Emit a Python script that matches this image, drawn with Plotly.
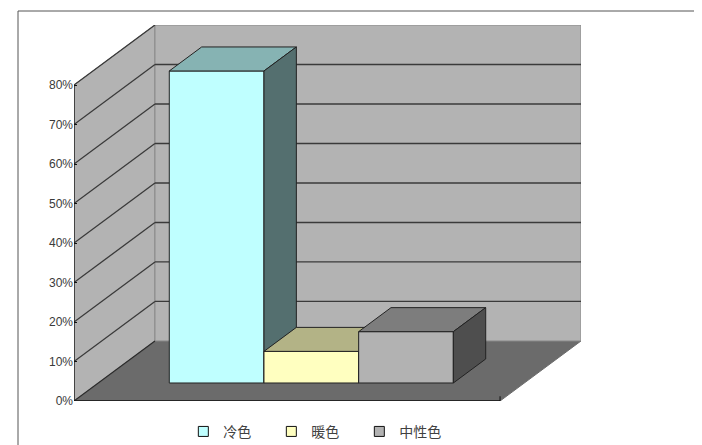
import plotly.graph_objects as go

# ---- data ----
categories = ["冷色", "暖色", "中性色"]
values = [79, 8, 13]
y_ticks = [0, 10, 20, 30, 40, 50, 60, 70, 80]
y_tick_labels = ["0%", "10%", "20%", "30%", "40%", "50%", "60%", "70%", "80%"]

# ---- style ----
front_colors = ["#BFFFFF", "#FFFFC0", "#B2B2B2"]
top_colors = ["#86B3B3", "#B3B386", "#7D7D7D"]
side_colors = ["#546F6F", "#70704F", "#4E4E4E"]
WALL = "#B3B3B3"
FLOOR = "#6B6B6B"
GRID = "#3A3A3A"
EDGE = "#222222"

Y_MAX = max(y_ticks)
DX = 0.19        # depth offset in x-axis units (category width = 1)
DY = 15.2        # depth offset in y-axis units (percent)
D0, D1 = 0.3, 0.7  # bar depth band
GAP = 1.5        # gap width relative to bar width
n = len(values)
w = 1.0 / (n + GAP)


def P(x, y, d):
    return x + d * DX, y + d * DY


def poly(pts, fill, line_color, line_width=1):
    xs = [p[0] for p in pts] + [pts[0][0]]
    ys = [p[1] for p in pts] + [pts[0][1]]
    return go.Scatter(x=xs, y=ys, mode="lines", fill="toself", fillcolor=fill,
                      line=dict(color=line_color, width=line_width),
                      hoverinfo="skip", showlegend=False)


def seg(p, q, color, width=1):
    return go.Scatter(x=[p[0], q[0]], y=[p[1], q[1]], mode="lines",
                      line=dict(color=color, width=width),
                      hoverinfo="skip", showlegend=False)


fig = go.Figure()

# floor
fig.add_trace(poly([P(0, 0, 0), P(1, 0, 0), P(1, 0, 1), P(0, 0, 1)], FLOOR, FLOOR))
# left wall
fig.add_trace(poly([P(0, 0, 0), P(0, 0, 1), P(0, Y_MAX, 1), P(0, Y_MAX, 0)], WALL, "#8A8A8A"))
# back wall
fig.add_trace(poly([P(0, 0, 1), P(1, 0, 1), P(1, Y_MAX, 1), P(0, Y_MAX, 1)], WALL, "#8A8A8A"))

# gridlines
for t in y_ticks[1:]:
    fig.add_trace(seg(P(0, t, 0), P(0, t, 1), GRID, 1.3))
    if t < Y_MAX:
        fig.add_trace(seg(P(0, t, 1), P(1, t, 1), GRID, 1.3))

# floor / left wall junction, axis edges
fig.add_trace(seg(P(0, 0, 0), P(0, 0, 1), "#2A2A2A", 1.2))
fig.add_trace(seg(P(0, 0, 0), P(1, 0, 0), "#111111", 1.5))
fig.add_trace(seg(P(0, 0, 0), P(0, Y_MAX, 0), "#111111", 1.3))
fig.add_trace(seg(P(1, 0, 0), P(1, 1.2, 0), "#111111", 1))

# bars (painter's order, left to right)
for i, v in enumerate(values):
    c = 0.5 + (i - (n - 1) / 2) * w
    xl, xr = c - w / 2, c + w / 2
    fig.add_trace(poly([P(xl, 0, D0), P(xr, 0, D0), P(xr, v, D0), P(xl, v, D0)],
                       front_colors[i], EDGE))
    fig.add_trace(poly([P(xl, v, D0), P(xr, v, D0), P(xr, v, D1), P(xl, v, D1)],
                       top_colors[i], EDGE))
    fig.add_trace(poly([P(xr, 0, D0), P(xr, v, D0), P(xr, v, D1), P(xr, 0, D1)],
                       side_colors[i], EDGE))

# legend entries
for i, name in enumerate(categories):
    fig.add_trace(go.Scatter(x=[None], y=[None], mode="markers", name=name,
                             marker=dict(symbol="square", size=10, color=front_colors[i],
                                         line=dict(color="#111111", width=1))))

# page body adds an 8px offset; figure is sized so the plot area lands at x 74-581, y 25-401
fig.update_layout(
    width=694, height=437,
    margin=dict(l=66, r=121, t=17, b=44, autoexpand=False),
    paper_bgcolor="white", plot_bgcolor="white",
    xaxis=dict(range=[0, 1 + DX], visible=False, fixedrange=True),
    yaxis=dict(range=[0, Y_MAX + DY], tickvals=y_ticks, ticktext=y_tick_labels,
               showgrid=False, zeroline=False, showline=False, automargin=False,
               ticks="inside", ticklen=3, tickcolor="#111111",
               tickfont=dict(family="Liberation Sans", size=12, color="#3A3A3A"),
               fixedrange=True),
    legend=dict(orientation="h", x=0.476, xanchor="center", y=-0.082, yanchor="middle",
                font=dict(family="Noto Sans CJK SC", size=14, color="#404040"),
                itemwidth=30, entrywidth=43, bgcolor="rgba(0,0,0,0)"),
    shapes=[dict(type="rect", xref="paper", yref="paper",
                 x0=(18 - 74) / 507, x1=1.3, y0=-0.2, y1=(401 - 11) / 376,
                 line=dict(color="#555555", width=1), fillcolor="rgba(0,0,0,0)",
                 layer="below")],
)

fig.write_html("out.html")
